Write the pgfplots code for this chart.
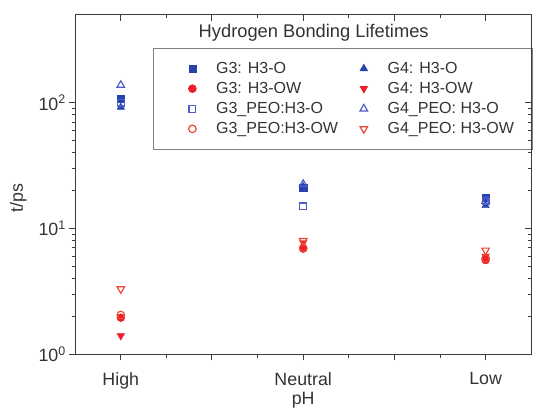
\documentclass[border=0pt]{standalone}
\usepackage{pgfplots}
\pgfplotsset{compat=1.18}
\usepackage{fontspec}
\setmainfont{Liberation Sans}
\definecolor{bfill}{RGB}{38,66,172}
\definecolor{bopen}{RGB}{80,92,200}
\definecolor{rfill}{RGB}{236,30,40}
\definecolor{ropen}{RGB}{238,72,52}
\definecolor{axgray}{RGB}{60,60,60}

\begin{document}
\begin{tikzpicture}
\begin{axis}[
    scale only axis,
    width=461pt, height=343pt,
    xmin=-1, xmax=9,
    ymode=log, ymin=1, ymax=500,
    axis line style={axgray, line width=1.2pt},
    major tick length=6pt, minor tick length=3.5pt,
    xtick={0,2,4,6,8}, minor xtick={1,3,5,7},
    ytick={1,10,100},
    tick style={axgray, line width=1pt},
    tick align=outside,
    xtick pos=bottom, ytick pos=left,
    xticklabels={High,,Neutral,,Low},
    yticklabels={10\textsuperscript{0},10\textsuperscript{1},10\textsuperscript{2}},
    tick label style={font=\fontsize{18}{20}\selectfont, text=black!80},
    xticklabel style={yshift=-9pt},
    xlabel={pH}, ylabel={t/ps},
    label style={font=\fontsize{18}{20}\selectfont, text=black!80},
    xlabel style={at={(axis description cs:0.5,0)}, anchor=center, yshift=-47pt},
    ylabel style={at={(axis description cs:-0.1247,0.461)}, anchor=center},
    legend columns=2,
    legend cell align=left,
    legend image code/.code={
      \path[draw=none, fill=none] (-24pt,0pt) (5pt,0pt);
      \draw[#1] plot coordinates {(0pt,0pt)};
    },
    legend style={at={(rel axis cs:0.989,0.902)}, anchor=north east, xshift=6pt,
      draw=gray, line width=0.6pt, font=\fontsize{16.2}{19}\selectfont,
      text=black!80, inner xsep=16pt, inner ysep=12pt, row sep=3.5pt,
      /tikz/every odd column/.append style={column sep=17pt},
      /tikz/every even column/.append style={column sep=0pt}},
    clip=false,
]
% row 1
\addplot[only marks, mark=square*, mark size=3.6pt, bfill, mark options={draw=bfill, fill=bfill}]
  coordinates {(0,108) (4,21) (8,17.5)};
\addlegendentry{G3: H3-O}
\addplot[only marks, mark=triangle*, mark size=4.4pt, bfill, mark options={draw=bfill, fill=bfill}]
  coordinates {(0,92) (4,21.5) (8,15.2)};
\addlegendentry{G4: H3-O}
% row 2
\addplot[only marks, mark=*, mark size=4pt, rfill, mark options={draw=rfill, fill=rfill}]
  coordinates {(0,1.95) (4,6.9) (8,5.6)};
\addlegendentry{G3: H3-OW}
\addplot[only marks, mark=triangle*, mark size=4.4pt, rfill, mark options={draw=rfill, fill=rfill, rotate=180}]
  coordinates {(0,1.4) (4,7.7) (8,6.0)};
\addlegendentry{G4: H3-OW}
% row 3
\addplot[only marks, mark=square, mark size=3.4pt, bopen, mark options={draw=bopen, line width=1.2pt}]
  coordinates {(0,100) (4,15) (8,16.5)};
\addlegendentry{G3\_PEO:H3-O}
\addplot[only marks, mark=triangle, mark size=4.4pt, bopen, mark options={draw=bopen, line width=1.2pt}]
  coordinates {(0,138) (4,22.5) (8,16.5)};
\addlegendentry{G4\_PEO: H3-O}
% row 4
\addplot[only marks, mark=o, mark size=3.8pt, ropen, mark options={draw=ropen, line width=1.2pt}]
  coordinates {(0,2.05) (4,7.0) (8,5.8)};
\addlegendentry{G3\_PEO:H3-OW}
\addplot[only marks, mark=triangle, mark size=4.4pt, ropen, mark options={draw=ropen, line width=1.2pt, rotate=180}]
  coordinates {(0,3.3) (4,8.0) (8,6.7)};
\addlegendentry{G4\_PEO: H3-OW}

\node[font=\fontsize{18.5}{20}\selectfont, text=black!80] at (rel axis cs:0.523,0.947) {Hydrogen Bonding Lifetimes};

\path (rel axis cs:0,0) ++(-76pt,-55pt) coordinate (bbsw);
\path (rel axis cs:1,1) ++(1pt,15pt) coordinate (bbne);
\path (bbsw) rectangle (bbne);
\end{axis}
\begin{axis}[
    scale only axis,
    width=461pt, height=343pt,
    xmin=-1, xmax=9,
    ymode=log, ymin=1, ymax=500,
    axis line style={axgray, line width=1.2pt},
    major tick length=6pt, minor tick length=3.5pt,
    xtick={0,2,4,6,8}, minor xtick={1,3,5,7},
    ytick={1,10,100},
    tick style={axgray, line width=1pt},
    tick align=inside,
    xtick pos=top, ytick pos=right,
    xticklabels={}, yticklabels={},
]
\end{axis}
\end{tikzpicture}
\end{document}
